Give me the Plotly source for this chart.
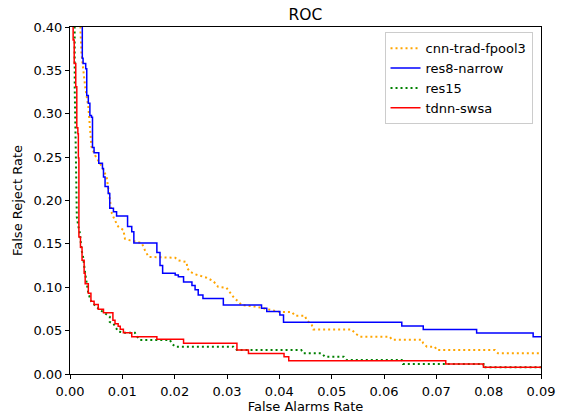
import plotly.graph_objects as go

# ---- data ----
cnn_x = [0.0018, 0.0020, 0.0022, 0.0025, 0.0029, 0.0035, 0.0038, 0.0041, 0.0048, 0.0061,
         0.0070, 0.0073, 0.0076, 0.0080, 0.0086, 0.0092, 0.0102, 0.0105, 0.0115, 0.0137,
         0.0143, 0.0150, 0.0201, 0.0207, 0.0223, 0.0224, 0.0229, 0.0239, 0.0261, 0.0274,
         0.0283, 0.0299, 0.0312, 0.0319, 0.0328, 0.0357, 0.0369, 0.0401, 0.0424, 0.0430,
         0.0449, 0.0452, 0.0462, 0.0465, 0.0538, 0.0545, 0.0554, 0.0611, 0.0615, 0.0672,
         0.0675, 0.0682, 0.0697, 0.0701, 0.0812, 0.0818, 0.0900]
cnn_y = [1.000, 0.396, 0.369, 0.350, 0.331, 0.308, 0.281, 0.262, 0.252, 0.239,
         0.227, 0.216, 0.204, 0.185, 0.177, 0.170, 0.166, 0.156, 0.154, 0.151,
         0.143, 0.135, 0.134, 0.131, 0.129, 0.122, 0.118, 0.115, 0.111, 0.107,
         0.1006, 0.0994, 0.089, 0.085, 0.0795, 0.0775, 0.0757, 0.0714, 0.0714, 0.0672,
         0.0672, 0.0622, 0.0565, 0.0514, 0.0514, 0.0469, 0.0430, 0.0430, 0.0396, 0.0396,
         0.0354, 0.0315, 0.0315, 0.0276, 0.0276, 0.0238, 0.0238]

res8_x = [0.00235, 0.00235, 0.0025, 0.0030, 0.0032, 0.0035, 0.0038, 0.0041, 0.0043, 0.0046,
          0.0055, 0.0062, 0.0064, 0.0067, 0.0073, 0.0076, 0.0083, 0.0089, 0.0110, 0.0118,
          0.0122, 0.0166, 0.0172, 0.0177, 0.0201, 0.0207, 0.0217, 0.0233, 0.0239, 0.0245,
          0.0254, 0.0293, 0.0366, 0.0376, 0.0401, 0.0408, 0.0634, 0.0675, 0.0777, 0.0885,
          0.0900]
res8_y = [1.000, 0.364, 0.358, 0.352, 0.321, 0.312, 0.298, 0.296, 0.261, 0.255,
          0.243, 0.237, 0.227, 0.216, 0.208, 0.191, 0.187, 0.182, 0.170, 0.164,
          0.151, 0.140, 0.125, 0.116, 0.114, 0.112, 0.106, 0.102, 0.097, 0.091,
          0.087, 0.0795, 0.0757, 0.072, 0.068, 0.0596, 0.0553, 0.0514, 0.0472, 0.043,
          0.043]

res15_x = [0.0008, 0.0009, 0.0011, 0.0013, 0.0016, 0.0019, 0.0022, 0.0025, 0.0029, 0.0032,
           0.0035, 0.0041, 0.0048, 0.0057, 0.0067, 0.0076, 0.0076, 0.0083, 0.0092, 0.0105,
           0.0124, 0.0127, 0.0134, 0.0191, 0.0194, 0.0201, 0.0312, 0.0319, 0.0442, 0.0446,
           0.0481, 0.0487, 0.0523, 0.0529, 0.0634, 0.0636, 0.0790, 0.0790, 0.0900]
res15_y = [1.000, 0.330, 0.260, 0.181, 0.170, 0.162, 0.143, 0.135, 0.116, 0.104,
           0.093, 0.083, 0.079, 0.074, 0.070, 0.066, 0.060, 0.058, 0.049, 0.0476,
           0.0476, 0.044, 0.0392, 0.0392, 0.0354, 0.0315, 0.0315, 0.0276, 0.0276, 0.0238,
           0.0238, 0.020, 0.020, 0.016, 0.016, 0.0115, 0.0115, 0.0077, 0.0077]

tdnn_x = [0.0006, 0.0006, 0.0008, 0.0011, 0.0013, 0.0015, 0.0016, 0.0017, 0.0020, 0.0023,
          0.0027, 0.0029, 0.0035, 0.0040, 0.0046, 0.0054, 0.0064, 0.0082, 0.0086, 0.0092,
          0.0096, 0.0102, 0.0118, 0.0166, 0.0217, 0.0319, 0.0341, 0.0409, 0.0418, 0.0718,
          0.0790, 0.0900]
tdnn_y = [1.000, 0.385, 0.358, 0.331, 0.284, 0.277, 0.249, 0.158, 0.146, 0.131,
          0.116, 0.104, 0.093, 0.084, 0.080, 0.0745, 0.0706, 0.062, 0.058, 0.055,
          0.0515, 0.0476, 0.043, 0.040, 0.0354, 0.0276, 0.0236, 0.020, 0.0153, 0.0115,
          0.0077, 0.0077]

x_ticks = [0.00, 0.01, 0.02, 0.03, 0.04, 0.05, 0.06, 0.07, 0.08, 0.09]
y_ticks = [0.00, 0.05, 0.10, 0.15, 0.20, 0.25, 0.30, 0.35, 0.40]

FONT = "DejaVu Sans"
FS = 13

fig = go.Figure()
fig.add_trace(go.Scatter(x=cnn_x, y=cnn_y, mode="lines", name="cnn-trad-fpool3",
                         line=dict(color="#FFA500", width=2, dash="2px,3px")))
fig.add_trace(go.Scatter(x=res8_x, y=res8_y, mode="lines", name="res8-narrow",
                         line=dict(color="#0000FF", width=1.5, shape="hv")))
fig.add_trace(go.Scatter(x=res15_x, y=res15_y, mode="lines", name="res15",
                         line=dict(color="#008000", width=2, dash="2px,3px")))
fig.add_trace(go.Scatter(x=tdnn_x, y=tdnn_y, mode="lines", name="tdnn-swsa",
                         line=dict(color="#FF0000", width=1.5, shape="hv")))

axis_common = dict(showline=True, linecolor="black", linewidth=1, mirror=True,
                   ticks="outside", ticklen=4, tickwidth=1, tickcolor="black",
                   showgrid=False, zeroline=False, tickformat=".2f", automargin=False,
                   tickfont=dict(family=FONT, size=FS, color="black"))

fig.update_layout(
    width=562, height=414,
    margin=dict(l=70, r=21, t=27, b=40),
    paper_bgcolor="white", plot_bgcolor="white",
    font=dict(family=FONT, size=FS, color="black"),
    title=dict(text="ROC", x=0.5435, xanchor="center", y=0.966, yanchor="middle",
               font=dict(family=FONT, size=15.5, color="black")),
    xaxis=dict(range=[0, 0.09], tickvals=x_ticks, ticklabelstandoff=1,
               title=dict(text="False Alarms Rate", standoff=4,
                          font=dict(family=FONT, size=FS)),
               **axis_common),
    yaxis=dict(range=[0, 0.40], tickvals=y_ticks,
               title=dict(text="False Reject Rate", standoff=7,
                          font=dict(family=FONT, size=FS)),
               **axis_common),
    legend=dict(x=0.982, y=0.985, xanchor="right", yanchor="top",
                bgcolor="rgba(255,255,255,0.8)", bordercolor="#cccccc", borderwidth=1,
                font=dict(family=FONT, size=FS, color="black"),
                tracegroupgap=0, itemwidth=30),
    showlegend=True,
)

fig.write_html("out.html", config={"displayModeBar": False},
               post_script="document.body.style.margin='0';document.body.style.overflow='hidden';")
